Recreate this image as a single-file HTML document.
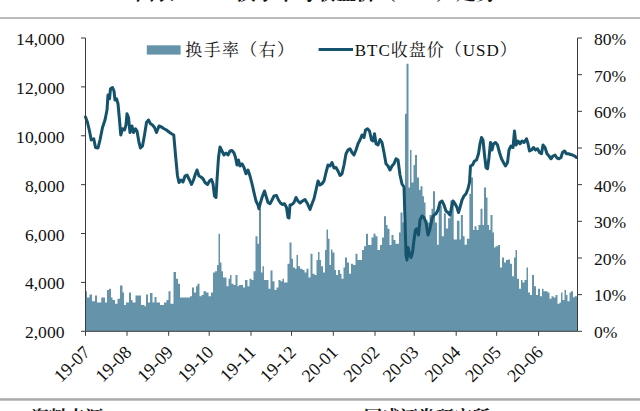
<!DOCTYPE html>
<html><head><meta charset="utf-8"><title>BTC</title>
<style>
html,body{margin:0;padding:0;background:#fff}
body{width:640px;height:411px;overflow:hidden;position:relative;font-family:"Liberation Serif","Noto Serif CJK SC",serif}
.title{position:absolute;left:-4.5px;width:640px;text-align:center;top:-18.5px;font-size:20px;font-weight:bold;color:#111;white-space:nowrap;line-height:22px}
.src{position:absolute;left:31px;top:407.3px;font-size:18px;color:#111;white-space:nowrap;line-height:22px}
.src b{font-weight:bold}
.src i{font-style:italic;color:#555;letter-spacing:0.17px}
</style></head><body>
<div class="title">图表：BTC换手率与收盘价（USD）走势</div>
<div class="src"><b>资料来源：</b><i>Coin Metrics, CoinMarketCap</i><b>，国盛证券研究所</b></div>
<svg width="640" height="411" viewBox="0 0 640 411" style="position:absolute;left:0;top:0">
<path d="M85.50,331.30V291.25H87.00V297.50H89.50V294.50H92.00V301.25H95.00V295.50H97.00V302.50H101.25V297.50H105.00V302.50H107.00V290.00H109.00V288.75H111.00V297.50H112.50V300.00H115.00V303.75H117.50V298.75H120.00V285.50H122.50V292.50H124.00V305.00H126.00V302.50H129.00V292.50H131.00V300.00H132.50V302.50H135.50V295.50H141.00V305.00H144.50V306.25H146.00V294.50H148.00V302.50H150.00V293.00H152.50V302.50H154.50V297.00H156.50V302.50H160.00V305.00H164.00V302.50H166.50V300.00H168.50V291.25H170.50V303.75H173.50V272.00H176.00V278.75H178.00V283.75H180.00V297.50H182.00V297.50H190.00V296.25H192.00V287.50H194.00V292.50H196.00V286.25H197.50V283.75H199.50V296.25H201.50V295.00H203.50V291.25H206.00V292.50H208.50V296.25H211.00V292.50H213.00V272.50H215.00V271.25H217.00V265.00H218.50V233.75H220.00V262.50H221.50V271.25H223.00V277.50H226.50V286.25H228.50V278.75H230.00V275.00H231.50V283.75H233.50V285.00H235.50V275.00H237.50V286.25H239.00V285.00H243.00V287.50H245.00V280.00H247.50V286.25H249.50V278.75H251.50V280.00H253.50V271.25H255.50V236.25H257.50V243.75H259.00V208.75H261.00V272.50H262.50V266.25H264.00V280.00H266.00V280.00H268.50V288.75H270.50V270.50H272.50V281.25H274.50V290.00H276.50V287.50H278.50V280.00H280.50V281.25H282.50V278.75H284.00V282.50H287.50V263.75H289.50V242.50H291.50V258.75H293.00V267.50H295.00V268.75H296.50V255.00H298.00V266.25H300.00V268.75H302.50V270.00H304.50V272.50H306.50V268.75H308.50V277.50H310.50V253.75H312.50V273.75H314.50V275.00H316.50V260.00H318.00V252.00H319.50V260.00H321.00V266.25H323.00V272.50H325.00V250.00H326.50V229.50H328.00V238.75H329.50V265.00H331.00V249.50H332.50V252.50H334.50V270.00H336.00V275.00H338.00V270.00H340.00V273.75H341.50V278.75H343.50V267.50H345.00V257.50H347.00V262.50H349.00V273.75H351.00V263.75H353.00V265.00H355.50V253.75H357.50V260.00H359.50V260.00H362.00V250.00H364.00V246.25H366.00V233.75H368.00V245.00H370.00V245.00H371.50V237.50H373.50V233.75H375.50V236.25H377.50V250.00H380.00V245.00H382.00V237.50H384.00V216.25H386.00V225.00H387.50V228.75H389.50V245.00H391.50V235.00H393.50V240.00H395.50V243.75H399.00V232.50H400.50V212.50H402.50V222.50H404.00V187.50H405.00V113.75H406.50V63.75H408.50V187.50H410.00V150.00H411.50V182.50H413.50V165.00H415.00V155.00H417.00V177.50H419.00V190.00H420.50V186.25H422.50V196.25H424.00V202.50H425.50V220.00H427.50V222.50H429.50V215.00H431.50V208.75H433.00V191.25H435.00V222.50H437.00V244.68H438.72V205.53H441.79V236.17H443.83V213.19H445.87V228.51H448.09V218.30H450.30V200.43H453.70V239.57H456.94V220.85H459.49V239.57H460.85V214.89H462.89V236.17H464.60V244.68H466.81V238.72H469.36V193.75H471.00V177.50H473.00V230.00H474.50V226.25H476.50V230.00H478.50V225.00H480.50V208.75H482.50V225.00H484.00V187.50H486.00V197.50H487.50V225.00H489.00V230.00H490.50V215.00H492.50V232.50H494.00V247.50H495.50V246.25H498.00V245.00H500.00V267.50H502.00V257.50H504.00V262.50H506.00V260.00H508.00V259.50H510.00V263.75H512.00V276.25H514.00V257.50H515.50V250.00H517.00V278.75H519.00V288.75H521.00V280.00H522.50V282.50H524.50V280.00H526.50V267.50H528.00V292.50H530.00V295.00H532.00V275.00H534.00V286.25H536.00V295.00H538.00V288.75H540.00V296.25H542.00V288.75H543.50V291.25H545.50V291.25H547.50V292.50H549.50V298.75H551.50V296.25H553.50V297.50H555.50V295.00H557.50V303.75H559.50V302.50H561.00V292.50H562.50V300.00H564.50V290.00H566.00V295.00H567.50V301.25H569.50V292.50H571.00V291.25H573.00V297.50H574.50V296.25H577.00V331.30Z" fill="#6594aa"/>
<path d="M85.50,117.00L87.50,122.50L89.50,131.00L91.25,140.00L93.75,138.75L95.50,147.50L98.00,148.00L100.00,140.00L102.50,127.50L105.00,120.00L107.00,110.00L108.00,95.00L109.50,98.75L110.50,88.75L112.50,87.50L114.00,91.00L115.00,100.00L116.50,98.75L118.00,103.75L119.50,120.00L120.75,135.00L122.50,128.75L124.50,130.00L126.00,125.00L127.00,113.75L128.50,117.50L130.00,132.50L132.00,126.00L133.50,132.50L135.50,128.75L137.00,131.00L139.00,142.50L140.50,148.00L142.50,146.00L144.50,135.00L146.50,122.50L148.50,120.00L150.50,123.75L152.50,125.00L154.50,127.50L156.50,132.50L159.00,126.00L161.50,127.00L164.00,128.75L166.50,130.00L169.00,132.00L171.50,133.75L173.75,135.00L175.50,155.00L177.50,176.00L179.00,182.50L181.00,180.00L183.00,182.00L185.00,176.00L187.00,175.00L189.50,180.00L191.50,184.50L193.50,180.00L195.50,173.75L197.00,170.00L199.00,176.00L201.00,177.00L203.00,178.75L205.00,182.50L207.50,184.50L209.50,181.00L211.50,179.50L213.00,183.75L214.50,196.00L216.00,197.50L217.00,180.00L218.50,157.50L220.00,147.00L222.00,151.00L224.00,155.00L226.00,153.00L228.00,155.00L230.00,151.00L232.00,150.50L234.00,153.00L235.50,157.50L237.00,165.00L238.50,160.00L240.00,166.00L242.00,163.75L244.00,167.50L246.00,173.75L248.00,170.00L250.00,176.00L252.00,183.75L254.00,192.50L256.00,201.00L258.00,205.00L259.00,208.75L260.50,202.50L262.50,196.00L264.50,191.00L266.00,196.00L268.00,202.50L270.00,203.75L272.00,200.00L274.00,196.00L276.50,195.50L278.50,200.00L280.50,203.00L282.50,204.50L284.50,203.75L286.50,207.50L288.00,217.50L289.00,218.00L290.00,205.00L292.00,204.50L294.00,202.50L296.00,197.50L298.00,201.00L300.00,203.00L302.50,201.00L305.00,199.50L307.50,203.75L310.00,209.50L312.00,203.75L314.00,198.75L316.00,190.00L318.00,181.00L320.00,185.00L322.00,183.75L324.00,181.00L326.00,172.50L328.00,165.00L330.00,166.00L332.00,162.50L334.00,168.00L336.00,167.50L338.00,171.00L340.00,175.50L342.00,173.75L344.00,165.00L346.00,153.75L348.00,150.00L350.00,148.75L352.00,152.50L354.00,155.00L356.00,150.00L358.00,143.75L360.00,140.00L362.00,135.00L364.00,137.50L365.50,130.00L367.50,128.75L369.50,131.00L371.50,140.00L373.00,141.00L374.50,133.75L376.00,143.75L378.00,145.00L380.00,139.50L382.00,142.50L384.00,152.50L386.00,163.75L388.00,166.00L390.00,170.00L392.00,166.00L394.00,163.75L396.00,158.75L398.00,160.00L400.00,175.00L402.00,184.00L404.00,187.00L405.00,220.00L406.00,255.00L407.00,260.00L408.00,247.50L409.50,253.75L411.00,257.50L412.50,252.50L414.00,240.00L415.50,230.00L417.00,228.75L418.50,235.00L420.00,220.00L422.00,216.00L424.00,217.50L426.00,222.50L428.00,235.00L430.00,228.75L432.00,218.75L434.00,215.00L436.00,213.75L438.00,210.00L440.00,202.50L442.00,201.00L444.00,205.00L446.00,211.00L448.00,212.50L450.00,215.00L451.50,207.50L453.00,201.00L455.00,203.75L457.00,207.50L458.50,212.50L460.00,207.50L462.00,200.00L464.00,196.00L466.00,193.75L468.00,188.75L469.50,182.50L470.50,166.00L472.50,165.00L474.50,161.00L476.50,160.00L478.50,153.75L480.00,143.75L481.50,137.50L483.00,140.00L484.50,155.00L486.00,167.50L487.50,168.75L489.00,157.50L490.50,142.50L492.00,150.00L493.50,143.75L495.50,142.50L497.50,145.00L499.50,152.50L501.50,158.75L503.50,162.50L505.50,166.00L507.50,162.50L509.00,150.00L511.00,146.00L513.00,147.50L514.50,131.00L516.00,145.00L518.00,141.00L520.00,143.75L522.00,141.00L524.00,142.50L526.50,138.75L528.00,143.75L529.50,151.00L531.50,150.00L533.50,147.50L535.50,150.00L537.50,148.75L539.50,152.50L541.50,153.75L543.00,145.00L545.00,147.50L547.00,153.75L549.00,156.00L551.00,158.75L553.00,156.00L555.00,155.00L557.00,158.00L559.00,158.75L561.00,157.50L562.50,152.50L564.50,151.00L566.50,153.75L568.50,153.75L570.50,154.50L572.50,155.00L574.50,156.00L576.50,157.50" fill="none" stroke="#14536b" stroke-width="3.0" stroke-linejoin="round" stroke-linecap="round"/>
<g stroke="#3a3a3a" stroke-width="1" fill="none">
<path d="M85.5,38.0V331.3"/>
<path d="M577.5,38.0V331.3"/>
<path d="M85.5,331.3H577.5"/>
<path d="M81,38.00H85.5"/>
<path d="M81,86.88H85.5"/>
<path d="M81,135.77H85.5"/>
<path d="M81,184.65H85.5"/>
<path d="M81,233.53H85.5"/>
<path d="M81,282.42H85.5"/>
<path d="M81,331.30H85.5"/>
<path d="M577.5,38.00H582"/>
<path d="M577.5,74.66H582"/>
<path d="M577.5,111.33H582"/>
<path d="M577.5,147.99H582"/>
<path d="M577.5,184.65H582"/>
<path d="M577.5,221.31H582"/>
<path d="M577.5,257.98H582"/>
<path d="M577.5,294.64H582"/>
<path d="M577.5,331.30H582"/>
<path d="M85.5,331.3V335.8"/>
<path d="M127.0,331.3V335.8"/>
<path d="M168.7,331.3V335.8"/>
<path d="M209.2,331.3V335.8"/>
<path d="M251.0,331.3V335.8"/>
<path d="M291.5,331.3V335.8"/>
<path d="M333.3,331.3V335.8"/>
<path d="M375.0,331.3V335.8"/>
<path d="M414.2,331.3V335.8"/>
<path d="M456.2,331.3V335.8"/>
<path d="M496.7,331.3V335.8"/>
<path d="M538.6,331.3V335.8"/>
</g>
<g font-family="'Liberation Serif',serif" font-size="17.6px" fill="#111">
<text x="64.5" y="45.0" text-anchor="end">14,000</text>
<text x="64.5" y="93.9" text-anchor="end">12,000</text>
<text x="64.5" y="142.8" text-anchor="end">10,000</text>
<text x="64.5" y="191.7" text-anchor="end">8,000</text>
<text x="64.5" y="240.5" text-anchor="end">6,000</text>
<text x="64.5" y="289.4" text-anchor="end">4,000</text>
<text x="64.5" y="338.3" text-anchor="end">2,000</text>
<text x="594" y="44.8">80%</text>
<text x="594" y="81.5">70%</text>
<text x="594" y="118.1">60%</text>
<text x="594" y="154.8">50%</text>
<text x="594" y="191.5">40%</text>
<text x="594" y="228.1">30%</text>
<text x="594" y="264.8">20%</text>
<text x="594" y="301.4">10%</text>
<text x="594" y="338.1">0%</text>
<text transform="translate(91.0,353.3) rotate(-45)" text-anchor="end" font-size="18px">19-07</text>
<text transform="translate(132.5,353.3) rotate(-45)" text-anchor="end" font-size="18px">19-08</text>
<text transform="translate(174.2,353.3) rotate(-45)" text-anchor="end" font-size="18px">19-09</text>
<text transform="translate(214.7,353.3) rotate(-45)" text-anchor="end" font-size="18px">19-10</text>
<text transform="translate(256.5,353.3) rotate(-45)" text-anchor="end" font-size="18px">19-11</text>
<text transform="translate(297.0,353.3) rotate(-45)" text-anchor="end" font-size="18px">19-12</text>
<text transform="translate(338.8,353.3) rotate(-45)" text-anchor="end" font-size="18px">20-01</text>
<text transform="translate(380.5,353.3) rotate(-45)" text-anchor="end" font-size="18px">20-02</text>
<text transform="translate(419.7,353.3) rotate(-45)" text-anchor="end" font-size="18px">20-03</text>
<text transform="translate(461.7,353.3) rotate(-45)" text-anchor="end" font-size="18px">20-04</text>
<text transform="translate(502.2,353.3) rotate(-45)" text-anchor="end" font-size="18px">20-05</text>
<text transform="translate(544.1,353.3) rotate(-45)" text-anchor="end" font-size="18px">20-06</text>
</g>
<rect x="0" y="17.3" width="640" height="1.5" fill="#a3a3a3"/>
<rect x="0" y="398.2" width="640" height="2.5" fill="#ababab"/>
<rect x="146.8" y="45.3" width="33.8" height="9.3" fill="#6594aa"/>
<path d="M318.6,49.6H353" stroke="#14536b" stroke-width="3"/>
<text x="185.3" y="55.8" font-family="'Liberation Serif','Noto Serif CJK SC',serif" font-size="17px" fill="#111" letter-spacing="1.35">换手率（右）</text>
<text x="354.7" y="55.8" font-family="'Liberation Serif','Noto Serif CJK SC',serif" font-size="17px" fill="#111" letter-spacing="1.0">BTC收盘价（USD）</text>
</svg>
</body></html>
